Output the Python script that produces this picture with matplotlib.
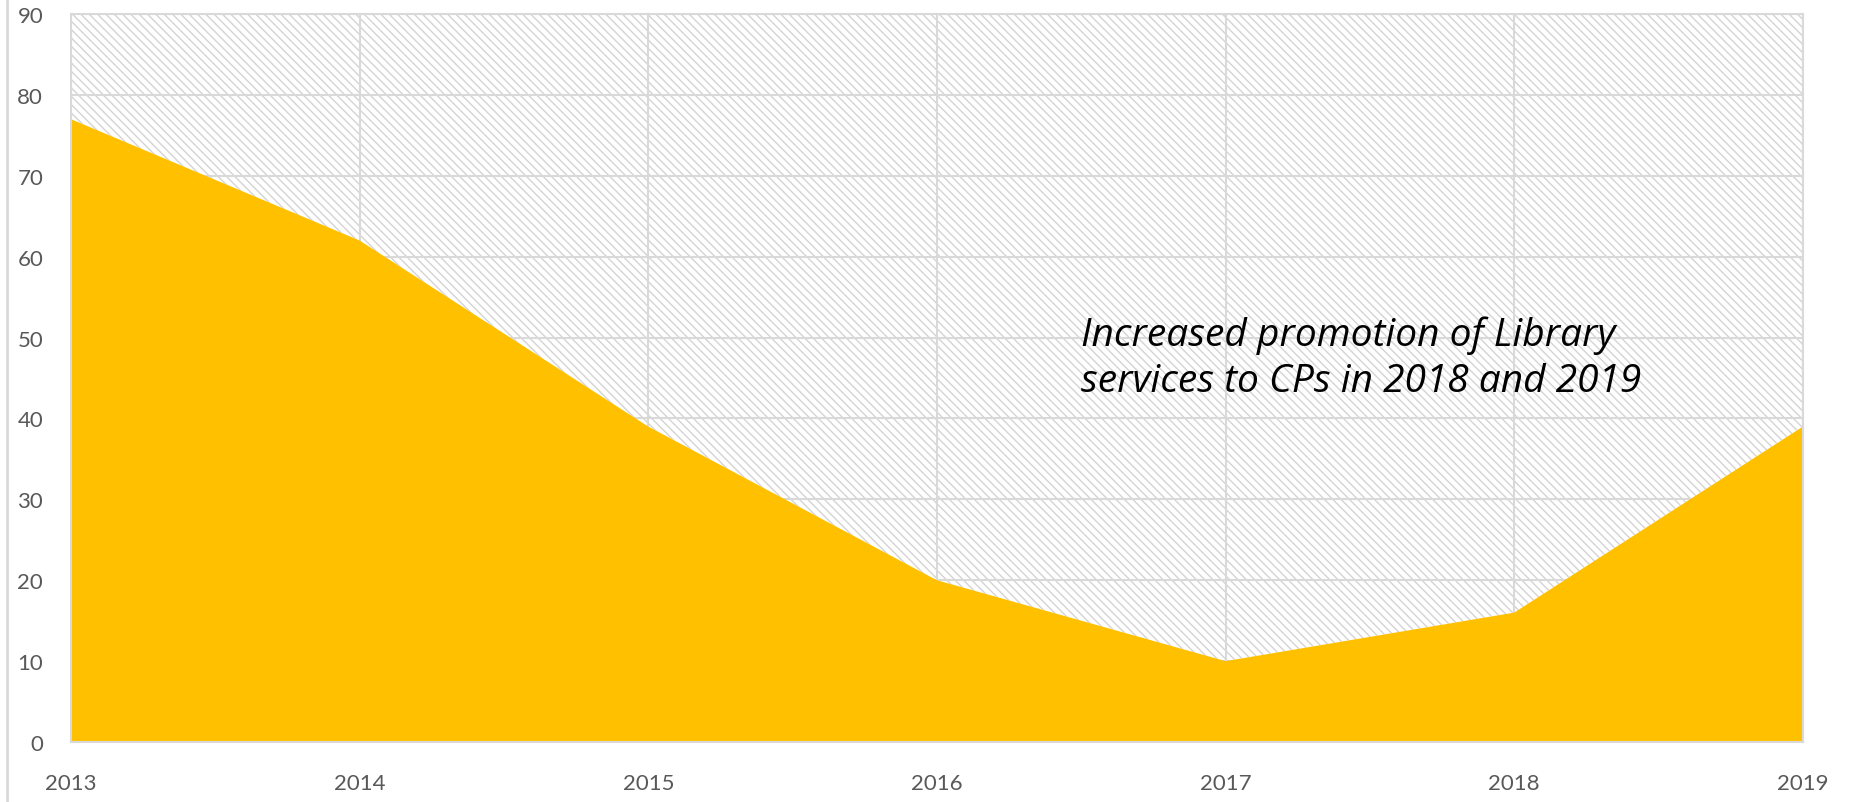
import matplotlib
matplotlib.use('Agg')
import matplotlib.pyplot as plt
from matplotlib.lines import Line2D

years = [2013, 2014, 2015, 2016, 2017, 2018, 2019]
values = [77, 62, 39, 20, 10, 16, 39]
y_ticks = [0, 10, 20, 30, 40, 50, 60, 70, 80, 90]
note = 'Increased promotion of Library\nservices to CPs in 2018 and 2019'

GRID = '#d9d9d9'
TICK = '#595959'
GOLD = '#ffc000'

plt.rcParams['font.family'] = ['Lato', 'DejaVu Sans']
plt.rcParams['hatch.linewidth'] = 1.0

fig = plt.figure(figsize=(18.52, 8.03), dpi=100)
ax = fig.add_axes([0.0383, 0.0747, 0.9352, 0.9066])

# hatched band from the series up to the axis top
ax.fill_between(years, values, y_ticks[-1], facecolor='white',
                edgecolor='#d4d4d4', hatch='\\\\\\\\', linewidth=0, zorder=0.2)
ax.fill_between(years, 0, values, facecolor=GOLD, linewidth=0, zorder=2)

ax.set_xlim(years[0], years[-1])
ax.set_ylim(y_ticks[0], y_ticks[-1])
ax.set_xticks(years)
ax.set_yticks(y_ticks)
ax.set_axisbelow(True)
ax.grid(True, color=GRID, linewidth=1.5)
for s in ax.spines.values():
    s.set_color(GRID)
    s.set_linewidth(1.5)
    s.set_zorder(3)
ax.tick_params(length=0, labelsize=16, colors=TICK)
ax.tick_params(axis='y', pad=20)
ax.tick_params(axis='x', pad=22)

ax.text(2016.5, 47.5, note, fontsize=28, style='italic', color='black',
        ha='left', va='center', linespacing=1.25, zorder=4,
        family=['Open Sans', 'DejaVu Sans'])

# outer frame edge on the left
fig.add_artist(Line2D([0.0038, 0.0038], [0, 1], color=GRID, linewidth=2,
                      transform=fig.transFigure))

fig.savefig('out.png', dpi=100)
